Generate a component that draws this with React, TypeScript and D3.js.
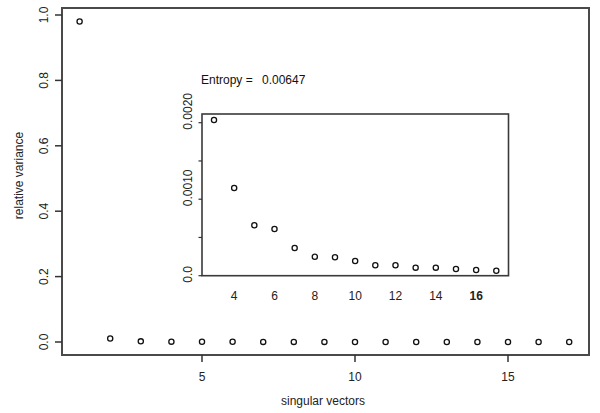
import React from 'react';
import * as d3 from 'd3';

// relative variance of each singular vector
const vectors = d3.range(1, 18);
const variance = [
  0.98, 0.0105, 0.002035, 0.001146, 0.000659, 0.00061, 0.000362, 0.000248,
  0.000241, 0.000192, 0.000136, 0.000136, 0.000105, 0.000105, 0.000088,
  0.000075, 0.000065,
];
const mainXTicks = [5, 10, 15];
const mainYTicks = [0, 0.2, 0.4, 0.6, 0.8, 1.0];
const insetXTicks = [4, 6, 8, 10, 12, 14, 16];
const insetYTicks = [0, 0.0005, 0.001, 0.0015, 0.002];
const insetYLabels = [0, 0.001, 0.002];
const entropy = '0.00647';

const font = '"Liberation Sans", Arial, sans-serif';

export default function App() {
  // main panel
  const box = { left: 62, top: 8, right: 589, bottom: 355 };
  const x = d3.scaleLinear().domain([1, 17]).range([79.6, 569.2]);
  const y = d3.scaleLinear().domain([0, 1]).range([342, 15]);

  // inset panel (vectors 3..17)
  const ibox = { left: 202, top: 114, right: 508.5, bottom: 275.7 };
  const ix = d3.scaleLinear().domain([3, 17]).range([214, 496.3]);
  const iy = d3.scaleLinear().domain([0, 0.002]).range([275.7, 122.7]);
  const insetData = vectors.map((v, i) => ({ v, val: variance[i] })).filter(d => d.v >= 3);

  const fmtY = d3.format('.1f');

  return (
    <svg width={600} height={413} style={{ position: 'absolute', left: 0, top: 0, background: '#fff' }} fontFamily={font}>
      {/* main box */}
      <rect x={box.left} y={box.top} width={box.right - box.left} height={box.bottom - box.top}
        fill="none" stroke="#4a4a4a" strokeWidth={2} />

      {/* main y axis */}
      {mainYTicks.map(t => (
        <g key={'my' + t}>
          <line x1={box.left} x2={box.left - 7} y1={y(t)} y2={y(t)} stroke="#333" strokeWidth={1.5} />
          <text transform={`translate(47.5,${y(t)}) rotate(-90)`} textAnchor="middle" fontSize={12} fill="#222">
            {fmtY(t)}
          </text>
        </g>
      ))}
      <text transform="translate(23,175.5) rotate(-90)" textAnchor="middle" fontSize={12} fill="#222">
        relative variance
      </text>

      {/* main x axis */}
      {mainXTicks.map(t => (
        <g key={'mx' + t}>
          <line x1={x(t)} x2={x(t)} y1={box.bottom} y2={box.bottom + 7} stroke="#333" strokeWidth={1.5} />
          <text x={x(t)} y={380.5} textAnchor="middle" fontSize={12} fill="#222">{t}</text>
        </g>
      ))}
      <text x={323} y={405} textAnchor="middle" fontSize={12} fill="#222">singular vectors</text>

      {/* main points */}
      {vectors.map((v, i) => (
        <circle key={'mp' + v} cx={x(v)} cy={y(variance[i])} r={2.6} fill="none" stroke="#111" strokeWidth={1.3} />
      ))}

      {/* entropy note */}
      <text x={201} y={84} fontSize={12} fill="#111">
        Entropy =
        <tspan x={262}>{entropy}</tspan>
      </text>

      {/* inset box */}
      <rect x={ibox.left} y={ibox.top} width={ibox.right - ibox.left} height={ibox.bottom - ibox.top}
        fill="#fff" stroke="#3a3a3a" strokeWidth={1.6} />

      {insetYTicks.map(t => (
        <line key={'iyt' + t} x1={ibox.left} x2={ibox.left - 3.5} y1={iy(t)} y2={iy(t)} stroke="#333" strokeWidth={1.2} />
      ))}
      {insetYLabels.map(t => (
        <text key={'iyl' + t} transform={`translate(192,${iy(t) + 7}) rotate(-90)`} textAnchor="start" fontSize={12} fill="#222">
          {t === 0 ? '0.0' : d3.format('.4f')(t)}
        </text>
      ))}
      {insetXTicks.map(t => (
        <text key={'ixl' + t} x={ix(t)} y={299.5} textAnchor="middle" fontSize={12} fill="#222"
          fontWeight={t === 16 ? 'bold' : 'normal'}>
          {t}
        </text>
      ))}
      {insetData.map(d => (
        <circle key={'ip' + d.v} cx={ix(d.v)} cy={iy(d.val)} r={2.6} fill="none" stroke="#111" strokeWidth={1.3} />
      ))}
    </svg>
  );
}
